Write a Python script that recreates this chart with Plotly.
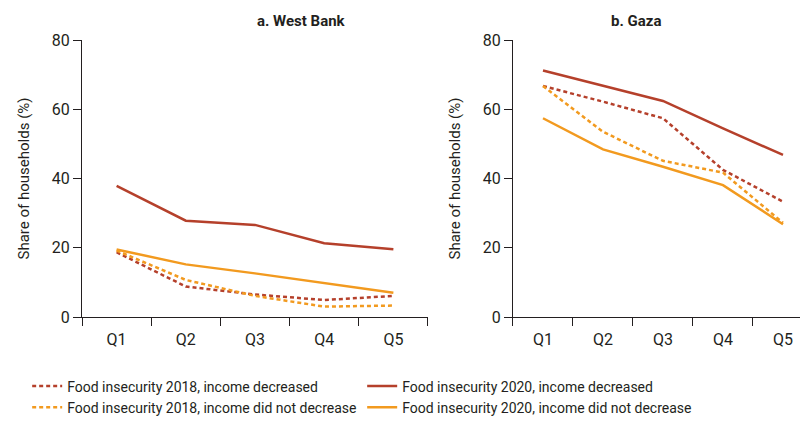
import plotly.graph_objects as go

quintiles = ["Q1", "Q2", "Q3", "Q4", "Q5"]

# West Bank
wb_2018_dec = [18.7, 8.8, 6.5, 4.9, 6.1]
wb_2018_notdec = [19.2, 10.7, 6.1, 3.0, 3.3]
wb_2020_dec = [37.9, 27.8, 26.6, 21.3, 19.6]
wb_2020_notdec = [19.5, 15.2, 12.6, 9.7, 7.0]

# Gaza
gz_2018_dec = [66.7, 62.2, 57.4, 42.5, 33.3]
gz_2018_notdec = [66.7, 53.5, 45.1, 41.7, 27.2]
gz_2020_dec = [71.2, 66.7, 62.4, 54.5, 46.8]
gz_2020_notdec = [57.4, 48.4, 43.4, 38.1, 26.8]

names = [
    "Food insecurity 2018, income decreased",
    "Food insecurity 2020, income decreased",
    "Food insecurity 2018, income did not decrease",
    "Food insecurity 2020, income did not decrease",
]

RED = "#b5402b"
ORANGE = "#f29a1f"
FONT = "Roboto, sans-serif"
INK = "#231f20"

styles = [(RED, "4px,3px"), (RED, "solid"), (ORANGE, "4px,3px"), (ORANGE, "solid")]
wb = [wb_2018_dec, wb_2020_dec, wb_2018_notdec, wb_2020_notdec]
gz = [gz_2018_dec, gz_2020_dec, gz_2018_notdec, gz_2020_notdec]

fig = go.Figure()
for i, (color, dash) in enumerate(styles):
    fig.add_trace(go.Scatter(x=quintiles, y=wb[i], mode="lines", name=names[i],
                             line=dict(color=color, width=2.5, dash=dash),
                             xaxis="x", yaxis="y", legendgroup=names[i]))
    fig.add_trace(go.Scatter(x=quintiles, y=gz[i], mode="lines", name=names[i],
                             line=dict(color=color, width=2.5, dash=dash),
                             xaxis="x2", yaxis="y2", legendgroup=names[i], showlegend=False))

xstyle = dict(type="category", tickson="boundaries", showline=True, linecolor=INK,
              linewidth=1, ticks="outside", ticklen=8, tickcolor=INK, showgrid=False,
              tickfont=dict(size=16, color=INK), zeroline=False, ticklabelstandoff=8)
ystyle = dict(range=[0, 80], dtick=20, showline=True, linecolor=INK, linewidth=1,
              ticks="outside", ticklen=8, tickcolor=INK, showgrid=False, zeroline=False,
              tickfont=dict(size=16, color=INK),
              title=dict(text="Share of households (%)", font=dict(size=15, color=INK), standoff=18))

fig.update_layout(
    width=808, height=422,
    margin=dict(l=74, r=3, t=32, b=113, autoexpand=False),
    paper_bgcolor="white", plot_bgcolor="white",
    font=dict(family=FONT, color=INK),
    xaxis=dict(xstyle, domain=[0, 0.4733], range=[-0.5, 4.5], anchor="y"),
    yaxis=dict(ystyle, anchor="x"),
    xaxis2=dict(xstyle, domain=[0.5896, 1], range=[-0.5, 4.5], anchor="y2"),
    yaxis2=dict(ystyle, anchor="x2"),
    showlegend=True,
    legend=dict(orientation="h", x=-0.075, xanchor="left", y=-0.193, yanchor="top",
                entrywidth=290, entrywidthmode="pixels",
                font=dict(size=14, color=INK), tracegroupgap=0),
    annotations=[
        dict(text="<b>a. West Bank</b>", x=0.2367, xref="paper", y=1.0, yref="paper",
             yanchor="bottom", yshift=8, showarrow=False, font=dict(size=15, color=INK)),
        dict(text="<b>b. Gaza</b>", x=0.7948, xref="paper", y=1.0, yref="paper",
             yanchor="bottom", yshift=8, showarrow=False, font=dict(size=15, color=INK)),
    ],
)

fig.write_html("out.html")
